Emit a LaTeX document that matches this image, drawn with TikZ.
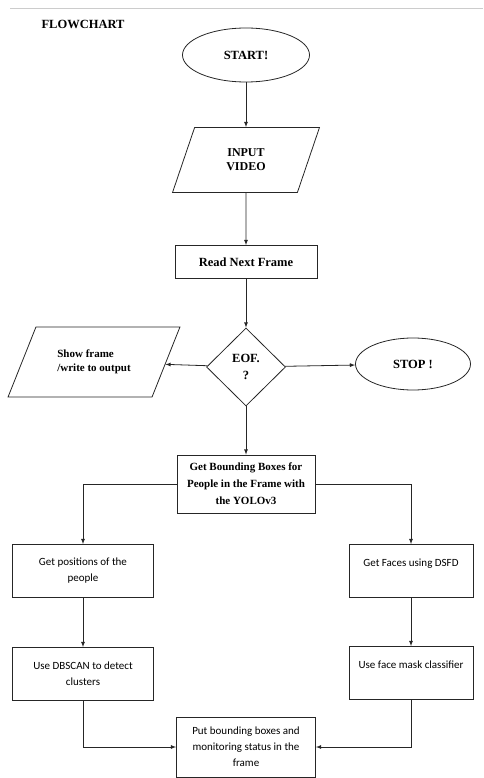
\documentclass[tikz,border=0pt]{standalone}
\usepackage{fontspec}
\setmainfont{Liberation Serif}
\newfontfamily\bodyfont{Carlito}
\usetikzlibrary{shapes.geometric, arrows}
\tikzstyle{startstop} = [ellipse, minimum width=127pt, minimum height=54pt, text centered, draw=black!85, line width=0.8pt, font=\fontsize{12.5}{14}\selectfont\bfseries]
\tikzstyle{io} = [trapezium, trapezium stretches=true, trapezium left angle=71, trapezium right angle=109, minimum width=147pt, minimum height=65pt, align=center, draw=black!85, line width=0.8pt, font=\fontsize{12}{14}\selectfont\bfseries]
\tikzstyle{process} = [rectangle, minimum width=142pt, minimum height=33pt, align=center, draw=black!85, line width=0.8pt, font=\fontsize{12.5}{17}\selectfont\bfseries]
\tikzstyle{decision} = [diamond, minimum width=79pt, minimum height=78pt, aspect=1, inner sep=0pt, align=center, draw=black!85, line width=0.8pt, font=\fontsize{12.5}{17}\selectfont\bfseries]
\tikzstyle{stage} = [rectangle, minimum width=141pt, minimum height=53pt, align=center, draw=black!85, line width=0.8pt, font=\bodyfont\fontsize{11}{16}\selectfont]
\tikzstyle{arrow} = [line width=0.8pt, draw=black!85, ->, >=latex]

\begin{document}
\begin{tikzpicture}[node distance=105pt]
\useasboundingbox (0,0) rectangle (483pt,-778pt);
\draw[black!20, line width=0.8pt] (10pt,-8pt) -- (483pt,-8pt);

% Nodes
\node (title) at (83pt,-24pt) {\fontsize{12.5}{14}\selectfont\bfseries FLOWCHART};
\node (start) [startstop] at (246pt,-55pt) {START!};
\node (input) [io, below of=start] {INPUT\\VIDEO};
\node (read) [process, below of=input, yshift=3pt] {Read Next Frame};
\node (eof) [decision, below of=read] {EOF.\\?};
\node (show) [io, left of=eof, xshift=-47pt, yshift=5pt, trapezium left angle=58, trapezium right angle=122, minimum width=172pt, minimum height=70pt, align=left, font=\fontsize{11}{14}\selectfont\bfseries] {Show frame\\/write to output};
\node (stop) [startstop, right of=eof, xshift=62pt, yshift=3pt, minimum width=115pt, minimum height=52pt] {STOP !};

% Detection flow
\node (bbox) [process, below of=eof, yshift=-12pt, minimum width=138pt, minimum height=58pt, font=\fontsize{11}{17}\selectfont\bfseries] {Get Bounding Boxes for\\People in the Frame with\\the YOLOv3};
\node (pos) [stage, below of=bbox, xshift=-163pt, yshift=18pt] {Get positions of the\\people};
\node (dbscan) [stage, below of=pos, yshift=2pt] {Use DBSCAN to detect\\clusters};
\node (faces) [stage, below of=bbox, xshift=165pt, yshift=18pt, minimum width=124pt] {Get Faces using DSFD\\~};
\node (mask) [stage, below of=faces, yshift=3pt, minimum width=124pt] {Use face mask classifier\\~};
\node (put) [stage, below of=bbox, yshift=-158pt, minimum width=139pt, minimum height=60pt] {Put bounding boxes and\\monitoring status in the\\frame};

% Arrows
\draw [arrow] (start) -- (input);
\draw [arrow] (input) -- (read);
\draw [arrow] (read) -- (eof);
\draw [arrow] (eof) -- (show);
\draw [arrow] (eof) -- (stop);
\draw [arrow] (eof) -- (bbox);

% Detection flow
\draw [arrow] (bbox.west) -| (pos.north);
\draw [arrow] (bbox.east) -| (faces.north);
\draw [arrow] (pos) -- (dbscan);
\draw [arrow] (faces) -- (mask);
\draw [arrow] (dbscan.south) |- (put.west);
\draw [arrow] (mask.south) |- (put.east);

\end{tikzpicture}
\end{document}
